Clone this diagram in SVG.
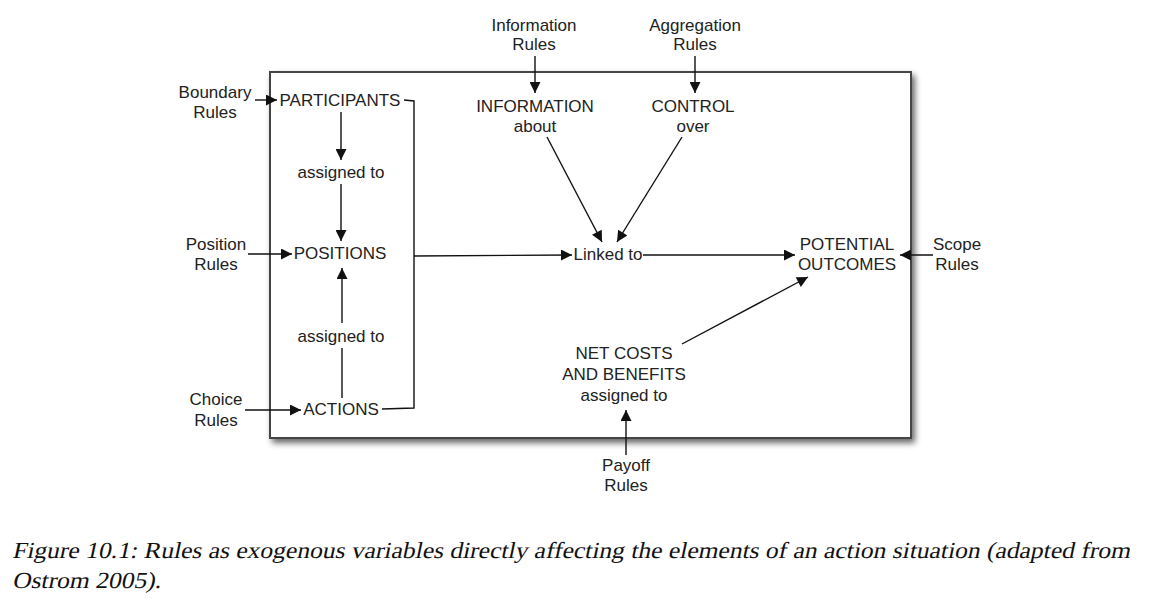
<svg xmlns="http://www.w3.org/2000/svg" width="1152" height="607" viewBox="0 0 1152 607">
<defs>
<marker id="ah" viewBox="0 0 10 10" refX="10" refY="5" markerWidth="12" markerHeight="11" markerUnits="userSpaceOnUse" orient="auto">
<path d="M0,0 L10,5 L0,10 z" fill="#111"/>
</marker>
<filter id="sh" x="-5%" y="-5%" width="112%" height="115%">
<feGaussianBlur in="SourceAlpha" stdDeviation="3"/>
<feOffset dx="3" dy="4" result="b"/>
<feComponentTransfer><feFuncA type="linear" slope="0.6"/></feComponentTransfer>
<feMerge><feMergeNode/><feMergeNode in="SourceGraphic"/></feMerge>
</filter>
<style>
.t{font-family:"Liberation Sans",Arial,sans-serif;font-size:17px;fill:#222;text-anchor:middle}
.l{fill:none;stroke:#111;stroke-width:1.4}
.a{fill:none;stroke:#111;stroke-width:1.4;marker-end:url(#ah)}
.cap{font-size:23px;fill:#111}
</style>
</defs>
<rect width="1152" height="607" fill="#fff"/>
<g id="frame">
<rect x="270" y="72" width="641" height="366" fill="#fff" stroke="#444" stroke-width="2" filter="url(#sh)"/>
</g>
<g id="connectors">
<line class="a" x1="255" y1="100" x2="277" y2="100"/>
<line class="a" x1="248" y1="254" x2="292" y2="254"/>
<line class="a" x1="245" y1="410" x2="301" y2="410"/>
<line class="a" x1="341" y1="112" x2="341" y2="160"/>
<line class="a" x1="341" y1="184" x2="341" y2="241"/>
<line class="a" x1="342" y1="323" x2="342" y2="268"/>
<line class="l" x1="342" y1="348" x2="342" y2="398"/>
<polyline class="l" points="404,100 414,101 414,408 382,409"/>
<line class="a" x1="414" y1="256" x2="572" y2="255"/>
<line class="a" x1="643" y1="255" x2="795" y2="255"/>
<line class="a" x1="535" y1="56" x2="535" y2="93"/>
<line class="a" x1="695" y1="56" x2="695" y2="93"/>
<line class="a" x1="547" y1="137" x2="602" y2="242"/>
<line class="a" x1="682" y1="137" x2="617" y2="242"/>
<line class="a" x1="682" y1="344" x2="808" y2="277"/>
<line class="a" x1="933" y1="255" x2="900" y2="255"/>
<line class="a" x1="626" y1="455" x2="626" y2="410"/>
</g>
<g id="boundary-rules"><text class="t" x="215" y="98">Boundary</text><text class="t" x="215" y="118">Rules</text></g>
<g id="position-rules"><text class="t" x="216" y="250">Position</text><text class="t" x="216" y="270">Rules</text></g>
<g id="choice-rules"><text class="t" x="216" y="405">Choice</text><text class="t" x="216" y="426">Rules</text></g>
<g id="participants"><text class="t" x="340" y="106">PARTICIPANTS</text></g>
<g id="assigned1"><text class="t" x="341" y="178">assigned to</text></g>
<g id="positions"><text class="t" x="340" y="259">POSITIONS</text></g>
<g id="assigned2"><text class="t" x="341" y="342">assigned to</text></g>
<g id="actions"><text class="t" x="341" y="415">ACTIONS</text></g>
<g id="information-rules"><text class="t" x="534" y="31">Information</text><text class="t" x="534" y="50">Rules</text></g>
<g id="aggregation-rules"><text class="t" x="695" y="31">Aggregation</text><text class="t" x="695" y="50">Rules</text></g>
<g id="information"><text class="t" x="535" y="112">INFORMATION</text><text class="t" x="535" y="132">about</text></g>
<g id="control"><text class="t" x="693" y="112">CONTROL</text><text class="t" x="693" y="132">over</text></g>
<g id="linked"><text class="t" x="608" y="260">Linked to</text></g>
<g id="outcomes"><text class="t" x="847" y="250">POTENTIAL</text><text class="t" x="847" y="270">OUTCOMES</text></g>
<g id="scope-rules"><text class="t" x="957" y="250">Scope</text><text class="t" x="957" y="270">Rules</text></g>
<g id="net-costs"><text class="t" x="624" y="359">NET COSTS</text><text class="t" x="624" y="380">AND BENEFITS</text><text class="t" x="624" y="401">assigned to</text></g>
<g id="payoff-rules"><text class="t" x="626" y="471">Payoff</text><text class="t" x="626" y="491">Rules</text></g>
<g id="caption">
<text class="cap" x="0" y="0" transform="translate(12,558) skewX(-12) scale(1.11,1)" font-family="Liberation Serif, serif" font-style="normal">Figure 10.1: Rules as exogenous variables directly affecting the elements of an action situation (adapted from</text>
<text class="cap" x="0" y="0" transform="translate(12,588) skewX(-12) scale(1.11,1)" font-family="Liberation Serif, serif" font-style="normal">Ostrom 2005).</text>
</g>
</svg>
